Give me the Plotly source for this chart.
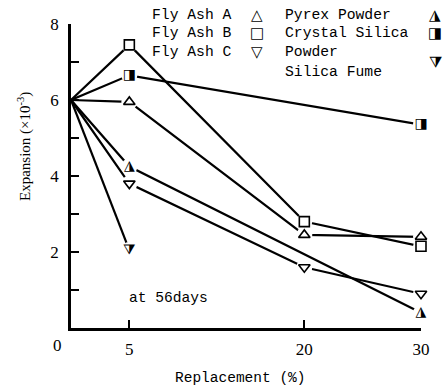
import plotly.graph_objects as go

# Expansion at 56 days versus replacement level for each admixture
fly_ash_a_x = [0, 5, 20, 30]
fly_ash_a_y = [6.0, 5.95, 2.45, 2.4]
fly_ash_b_x = [0, 5, 20, 30]
fly_ash_b_y = [6.0, 7.45, 2.8, 2.15]
fly_ash_c_x = [0, 5, 20, 30]
fly_ash_c_y = [6.0, 3.8, 1.6, 0.9]
pyrex_x = [0, 5, 30]
pyrex_y = [6.0, 4.25, 0.4]
crystal_x = [0, 5, 30]
crystal_y = [6.0, 6.65, 5.35]
fume_x = [0, 5]
fume_y = [6.0, 2.05]

x_ticks = [5, 20, 30]
y_ticks = [2, 4, 6, 8]

series = [
    (fly_ash_a_x, fly_ash_a_y, "symbol", "triangle-up-open"),
    (fly_ash_b_x, fly_ash_b_y, "symbol", "square-open"),
    (fly_ash_c_x, fly_ash_c_y, "symbol", "triangle-down-open"),
    (pyrex_x, pyrex_y, "glyph", "\u25EE"),
    (crystal_x, crystal_y, "glyph", "\u25E8"),
    (fume_x, fume_y, "glyph", "\u29E9"),
]

fig = go.Figure()

# connecting lines
for xs, ys, _, _ in series:
    fig.add_trace(go.Scatter(x=xs, y=ys, mode="lines",
                             line=dict(color="black", width=2.2),
                             cliponaxis=False, hoverinfo="skip"))

# white halos leave a small gap between lines and markers
for xs, ys, _, _ in series:
    fig.add_trace(go.Scatter(x=xs[1:], y=ys[1:], mode="markers",
                             marker=dict(symbol="circle", size=16, color="white"),
                             cliponaxis=False, hoverinfo="skip"))

# markers
for xs, ys, kind, sym in series:
    if kind == "symbol":
        fig.add_trace(go.Scatter(x=xs[1:], y=ys[1:], mode="markers",
                                 marker=dict(symbol=sym, size=10, color="black",
                                             line=dict(width=1.6, color="black")),
                                 cliponaxis=False))
    else:
        fig.add_trace(go.Scatter(x=xs[1:], y=ys[1:], mode="text",
                                 text=[sym] * (len(xs) - 1),
                                 textposition="middle center",
                                 textfont=dict(family="DejaVu Sans", size=14, color="black"),
                                 cliponaxis=False))

mono = "Liberation Mono"
serif = "Liberation Serif"

fig.update_layout(
    width=446, height=390,
    margin=dict(l=71, r=25, t=24, b=62),
    paper_bgcolor="white", plot_bgcolor="white",
    showlegend=False,
    xaxis=dict(range=[0, 30], tickvals=x_ticks, ticktext=[str(v) for v in x_ticks],
               ticks="inside", ticklen=8, tickwidth=2, tickcolor="black",
               showline=True, linecolor="black", linewidth=2.5,
               showgrid=False, zeroline=False,
               tickfont=dict(family=serif, size=17, color="black"),
               ticklabelstandoff=4),
    yaxis=dict(range=[0, 8], tickvals=y_ticks, ticktext=[str(v) for v in y_ticks],
               ticks="inside", ticklen=8, tickwidth=2, tickcolor="black",
               showline=True, linecolor="black", linewidth=2.5,
               showgrid=False, zeroline=False,
               minor=dict(ticks="inside", dtick=1, ticklen=8, tickwidth=2, tickcolor="black"),
               tickfont=dict(family=serif, size=17, color="black"),
               ticklabelstandoff=6),
)

annotations = [
    dict(x=57, y=345, text="0", font=dict(family=serif, size=17)),
    dict(x=240, y=378, text="Replacement (%)", font=dict(family=mono, size=14.5)),
    dict(x=24, y=147, text="Expansion (×10<sup>-3</sup>)", textangle=-90,
         font=dict(family=serif, size=15)),
    dict(x=168, y=298, text="at 56days", font=dict(family=mono, size=14.6)),
]

# legend block
left_labels = ["Fly Ash A", "Fly Ash B", "Fly Ash C"]
left_glyphs = ["\u25B3", "\u25A1", "\u25BD"]
rows = [15, 33, 52]
for lab, g, yy in zip(left_labels, left_glyphs, rows):
    annotations.append(dict(x=150, y=yy, text=lab, xanchor="left",
                            font=dict(family=mono, size=14.7)))
    annotations.append(dict(x=257, y=yy, text=g,
                            font=dict(family="DejaVu Sans", size=15)))

right_labels = [("Pyrex Powder", 15), ("Crystal Silica", 33), ("Powder", 52), ("Silica Fume", 72)]
for lab, yy in right_labels:
    annotations.append(dict(x=283, y=yy, text=lab, xanchor="left",
                            font=dict(family=mono, size=14.7)))
for g, yy in [("\u25EE", 15), ("\u25E8", 33), ("\u29E9", 62)]:
    annotations.append(dict(x=435, y=yy, text=g,
                            font=dict(family="DejaVu Sans", size=15)))

for a in annotations:
    a.setdefault("xanchor", "center")
    a.update(xref="paper", yref="paper", showarrow=False, yanchor="middle")
    a["font"]["color"] = "black"
    a["x"] = (a["x"] - 71) / 350
    a["y"] = (328 - a["y"]) / (328 - 24)

fig.update_layout(annotations=annotations)

fig.write_html("out.html")
